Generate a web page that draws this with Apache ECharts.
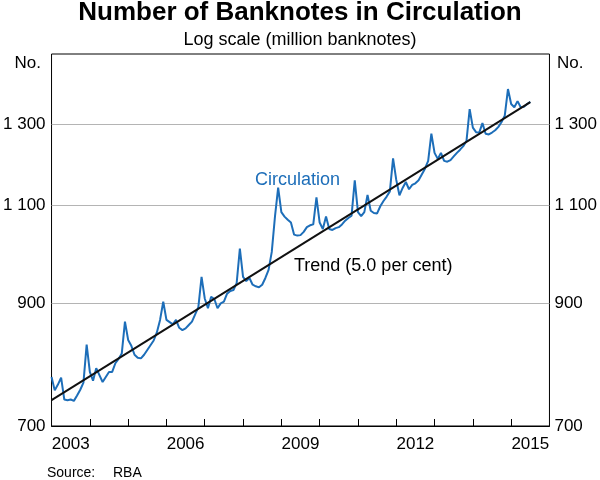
<!DOCTYPE html>
<html><head><meta charset="utf-8">
<script src="https://cdn.jsdelivr.net/npm/echarts@6/dist/echarts.min.js"></script>
<style>html,body{margin:0;padding:0;background:#fff}#c{width:600px;height:480px}</style>
</head><body><div id="c"></div>
<script>
// Monthly data, first observation January 2003
const startYear = 2003;
const circ2003 = [774, 753, 762, 773, 739, 738, 739, 737, 745, 754, 765, 827];
const circ2004 = [782, 768, 788, 777, 766, 774, 782, 782, 796, 803, 812, 867];
const circ2005 = [835, 825, 810, 805, 804, 810, 818, 826, 834, 848, 870, 903];
const circ2006 = [870, 866, 862, 870, 856, 852, 855, 861, 867, 880, 893, 950];
const circ2007 = [909, 891, 912, 908, 891, 900, 903, 918, 923, 925, 938, 1007];
const circ2008 = [950, 942, 948, 935, 932, 930, 935, 948, 964, 1000, 1075, 1141];
const circ2009 = [1085, 1075, 1068, 1062, 1036, 1034, 1035, 1042, 1052, 1056, 1058, 1118];
const circ2010 = [1062, 1048, 1075, 1048, 1046, 1050, 1052, 1058, 1066, 1072, 1077, 1158];
const circ2011 = [1085, 1076, 1085, 1124, 1088, 1083, 1082, 1098, 1110, 1120, 1132, 1211];
const circ2012 = [1159, 1123, 1140, 1154, 1137, 1147, 1151, 1158, 1172, 1186, 1205, 1274];
const circ2013 = [1225, 1210, 1225, 1205, 1203, 1207, 1216, 1225, 1233, 1242, 1255, 1340];
const circ2014 = [1290, 1278, 1277, 1302, 1274, 1272, 1277, 1283, 1292, 1305, 1322, 1396];
const circ2015 = [1354, 1345, 1362, 1345, 1346, 1354, 1360];

const trendYears = [2003, 2015.5];
const trendValues = [738, 1359];

const yTickValues = [700, 900, 1100, 1300];
const xTickYears = [2004, 2005, 2006, 2007, 2008, 2009, 2010, 2011, 2012, 2013, 2014, 2015];
const xLabelYears = [2003, 2006, 2009, 2012, 2015];

const circulation = [].concat(circ2003, circ2004, circ2005, circ2006, circ2007, circ2008,
  circ2009, circ2010, circ2011, circ2012, circ2013, circ2014, circ2015);
const circData = circulation.map((v, i) => [startYear + i / 12, v]);
const trendData = trendYears.map((y, i) => [y, trendValues[i]]);

const FONT = 'Arial, "Liberation Sans", sans-serif';
const BLUE = '#1d6eb9';
function fmt(v) {
  v = Math.round(v);
  if (v >= 1000) return Math.floor(v / 1000) + ' ' + String(v % 1000).padStart(3, '0');
  return String(v);
}
const yAxisBase = {
  type: 'log', min: 700, max: 1500, logBase: 10,
  axisLine: { show: false },
  axisTick: { show: false, customValues: yTickValues },
  axisLabel: { customValues: yTickValues, formatter: fmt, color: '#000', fontSize: 17, fontFamily: FONT },
  splitLine: { show: true, lineStyle: { color: '#b4b4b4', width: 1 } },
  minorTick: { show: false }, minorSplitLine: { show: false }
};

const chart = echarts.init(document.getElementById('c'), null, { renderer: 'canvas' });
chart.setOption({
  animation: false,
  backgroundColor: '#fff',
  grid: { left: 47, right: 48, top: 54, bottom: 54, show: true, borderColor: '#000', borderWidth: 1, backgroundColor: 'transparent' },
  xAxis: {
    type: 'value', min: 2003, max: 2016,
    axisLine: { show: true, lineStyle: { color: '#000', width: 1 } },
    axisTick: { show: true, inside: true, length: 7, customValues: xTickYears, lineStyle: { color: '#000' } },
    axisLabel: { customValues: xLabelYears.map(y => y + 0.5), formatter: v => String(Math.floor(v)), color: '#000', fontSize: 17, fontFamily: FONT, margin: 10 },
    splitLine: { show: false }
  },
  yAxis: [
    Object.assign({}, yAxisBase, { position: 'left', axisLabel: Object.assign({}, yAxisBase.axisLabel, { margin: 6 }) }),
    Object.assign({}, yAxisBase, { position: 'right', splitLine: { show: false }, axisLabel: Object.assign({}, yAxisBase.axisLabel, { margin: 5 }) })
  ],
  series: [
    { type: 'line', name: 'Circulation', data: circData, showSymbol: false, symbol: 'none',
      lineStyle: { color: BLUE, width: 2 }, itemStyle: { color: BLUE }, z: 3 },
    { type: 'line', name: 'Trend', data: trendData, showSymbol: false, symbol: 'none',
      lineStyle: { color: '#111', width: 2 }, itemStyle: { color: '#111' }, z: 4 }
  ],
  graphic: [
    { type: 'text', x: 300, y: 13, style: { text: 'Number of Banknotes in Circulation', font: 'bold 26px ' + FONT, fill: '#000', textAlign: 'center', textVerticalAlign: 'middle' } },
    { type: 'text', x: 300, y: 40, style: { text: 'Log scale (million banknotes)', font: '18px ' + FONT, fill: '#000', textAlign: 'center', textVerticalAlign: 'middle' } },
    { type: 'text', x: 41, y: 63, style: { text: 'No.', font: '17px ' + FONT, fill: '#000', textAlign: 'right', textVerticalAlign: 'middle' } },
    { type: 'text', x: 557, y: 63, style: { text: 'No.', font: '17px ' + FONT, fill: '#000', textAlign: 'left', textVerticalAlign: 'middle' } },
    { type: 'text', x: 255, y: 180, style: { text: 'Circulation', font: '18px ' + FONT, fill: BLUE, textAlign: 'left', textVerticalAlign: 'middle' } },
    { type: 'text', x: 294, y: 266, style: { text: 'Trend (5.0 per cent)', font: '18px ' + FONT, fill: '#000', textAlign: 'left', textVerticalAlign: 'middle' } },
    { type: 'text', x: 47, y: 473, style: { text: 'Source:', font: '14px ' + FONT, fill: '#000', textAlign: 'left', textVerticalAlign: 'middle' } },
    { type: 'text', x: 113, y: 473, style: { text: 'RBA', font: '14px ' + FONT, fill: '#000', textAlign: 'left', textVerticalAlign: 'middle' } }
  ]
});
</script>
</body></html>
